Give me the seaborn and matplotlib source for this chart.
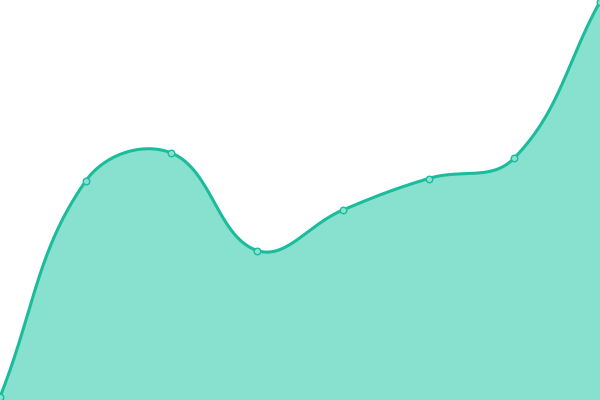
import numpy as np
import matplotlib
matplotlib.use("Agg")
import matplotlib.pyplot as plt
import seaborn as sns
import pandas as pd

x_vals = [0, 1, 2, 3, 4, 5, 6, 7]
y_vals = [3, 219, 247, 149.5, 190, 221.5, 242, 398.5]

LINE = "#1abc9c"
FILL = "#88e0cf"
W, H = 600.0, 400.0
XMAX, YMAX = 7.0, 400.0
TENSION = 0.4


def spline_curve(xs, ys, tension=TENSION, n=60):
    """Tension-based bezier smoothing computed in pixel space,
    control points capped to the plotting area."""
    P = np.column_stack([np.asarray(xs, float) * W / XMAX,
                         np.asarray(ys, float) * H / YMAX])
    k = len(P)
    cp_prev = np.zeros_like(P)
    cp_next = np.zeros_like(P)
    for i in range(k):
        prev = P[i - 1] if i > 0 else P[i]
        nxt = P[i + 1] if i < k - 1 else P[i]
        d01 = np.linalg.norm(P[i] - prev)
        d12 = np.linalg.norm(nxt - P[i])
        tot = d01 + d12
        s01 = d01 / tot if tot else 0.0
        s12 = d12 / tot if tot else 0.0
        cp_prev[i] = P[i] - tension * s01 * (nxt - prev)
        cp_next[i] = P[i] + tension * s12 * (nxt - prev)
    cp_prev[:, 0] = np.clip(cp_prev[:, 0], 0, W)
    cp_prev[:, 1] = np.clip(cp_prev[:, 1], 0, H)
    cp_next[:, 0] = np.clip(cp_next[:, 0], 0, W)
    cp_next[:, 1] = np.clip(cp_next[:, 1], 0, H)
    pts = [P[0]]
    for i in range(k - 1):
        p1, c1, c2, p2 = P[i], cp_next[i], cp_prev[i + 1], P[i + 1]
        t = np.linspace(0, 1, n)[1:, None]
        seg = ((1 - t) ** 3) * p1 + 3 * ((1 - t) ** 2) * t * c1 \
            + 3 * (1 - t) * t ** 2 * c2 + t ** 3 * p2
        pts.extend(seg)
    pts = np.array(pts)
    return pts[:, 0] * XMAX / W, pts[:, 1] * YMAX / H


sns.set_theme(style="white")
fig = plt.figure(figsize=(6, 4), dpi=100)
ax = fig.add_axes([0, 0, 1, 1])

cx, cy = spline_curve(x_vals, y_vals)
ax.fill_between(cx, cy, 0, color=FILL, linewidth=0)
sns.lineplot(x=cx, y=cy, ax=ax, color=LINE, linewidth=2.2, sort=False)
df = pd.DataFrame({"x": x_vals, "y": y_vals})
sns.scatterplot(data=df, x="x", y="y", ax=ax, s=22, color=FILL,
                edgecolor=LINE, linewidth=1, zorder=5)

ax.set_xlim(0, XMAX)
ax.set_ylim(0, YMAX)
ax.axis("off")
fig.savefig("out.png", dpi=100)
